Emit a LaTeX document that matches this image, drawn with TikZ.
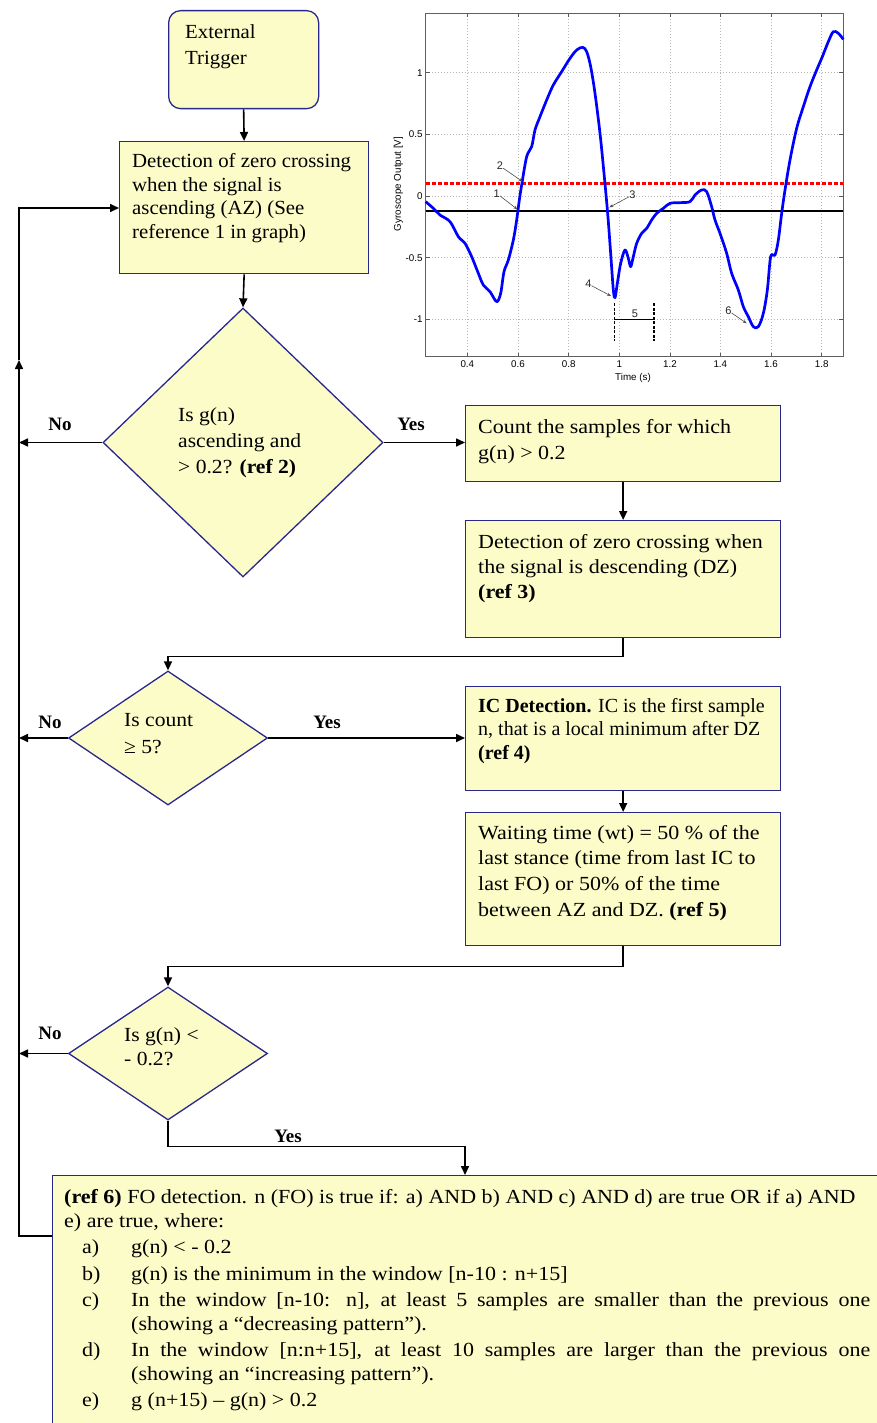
\documentclass[tikz,border=0pt]{standalone}
\usepackage{fontspec}
\setmainfont{Liberation Serif}
\newfontfamily\plotfont{Liberation Sans}
\newfontfamily\fA[FakeStretch=1.04]{Liberation Serif}
\newfontfamily\fB[FakeStretch=1.08]{Liberation Serif}
\newfontfamily\fC[FakeStretch=1.10]{Liberation Serif}
\usetikzlibrary{shapes.geometric,arrows.meta,calc}
\definecolor{boxfill}{RGB}{252,252,200}
\definecolor{boxline}{RGB}{40,40,140}
\definecolor{curveblue}{RGB}{0,0,255}
\newcommand{\tl}[1]{\begin{tabular}[t]{@{}l@{}}#1\end{tabular}}
\newcommand{\itm}[1]{\noindent\llap{\makebox[49pt][l]{#1}}}
\begin{document}
\begin{tikzpicture}[x=1pt,y=-1pt,
  box/.style 2 args={draw=boxline, fill=boxfill, line width=1.3pt, inner sep=0pt, anchor=north west, minimum width=#1, minimum height=#2},
  dia/.style 2 args={diamond, draw=boxline, fill=boxfill, line width=1.3pt, inner sep=0pt, minimum width=#1, minimum height=#2},
  txt/.style={anchor=base west, inner sep=0pt},
  lab/.style={inner sep=0pt, font=\fontsize{19}{19}\bfseries\selectfont},
  conn/.style={line width=1.6pt, draw=black},
  arr/.style={conn, -{Triangle[length=9pt,width=8pt]}},
  gridline/.style={gray!55, line width=0.5pt, dash pattern=on 1pt off 2pt},
  tick/.style={font=\plotfont\fontsize{9.8}{10}\selectfont, inner sep=0pt},
  anum/.style={font=\plotfont\fontsize{11}{11}\selectfont, inner sep=0pt, text=black!85},
  annot/.style={gray!60!black, line width=0.6pt, -{Stealth[length=4pt,width=3pt]}},
  ]
\useasboundingbox (0,0) rectangle (877,1423);

% ---------- flowchart boxes ----------
\node[box={150pt}{98pt}, rounded corners=12pt] (trig) at (168,10) {};
\node[box={249pt}{132pt}] (b1) at (119,141) {};
\node[dia={280pt}{269pt}] (d1) at (243,442.5) {};
\node[box={315pt}{76pt}] (b2) at (465,405) {};
\node[box={315pt}{117pt}] (b3) at (465,520) {};
\node[dia={199pt}{134pt}] (d2) at (168,738) {};
\node[box={315pt}{104pt}] (b4) at (465,686) {};
\node[box={315pt}{133pt}] (b5) at (465,812) {};
\node[dia={199pt}{133pt}] (d3) at (168,1053.5) {};
\node[box={850pt}{270pt}] (b6) at (52,1175) {};

% ---------- texts ----------
\node[txt, font=\fA\fontsize{20}{26}\selectfont] (t0) at (185,39) {\tl{External\\Trigger}};
\node[txt, font=\fA\fontsize{20}{23.5}\selectfont] (t1) at (132,168) {\tl{Detection of zero crossing\\when the signal is\\ascending (AZ) (See\\reference 1 in graph)}};
\node[txt, font=\fB\fontsize{20}{26}\selectfont] (td1) at (178,421) {\tl{Is g(n)\\ascending and\\> 0.2? \textbf{(ref 2)}}};
\node[txt, font=\fC\fontsize{20}{26}\selectfont] (t2) at (478,433) {\tl{Count the samples for which\\g(n) > 0.2}};
\node[txt, font=\fC\fontsize{20}{25}\selectfont] (t3) at (478,548) {\tl{Detection of zero crossing when\\the signal is descending (DZ)\\\textbf{(ref 3)}}};
\node[txt, font=\fB\fontsize{20}{27}\selectfont] (td2) at (124,726) {\tl{Is count\\≥ 5?}};
\node[txt, font=\fontsize{20}{23.5}\selectfont] (t4) at (478,712) {\tl{\textbf{IC Detection.} IC is the first sample\\n, that is a local minimum after DZ\\\textbf{(ref 4)}}};
\node[txt, font=\fC\fontsize{20}{25.7}\selectfont] (t5) at (478,839) {\tl{Waiting time (wt) = 50 \% of the\\last stance (time from last IC to\\last FO) or 50\% of the time\\between AZ and DZ. \textbf{(ref 5)}}};
\node[txt, font=\fB\fontsize{20}{24}\selectfont] (td3) at (124,1041) {\tl{Is g(n) <\\- 0.2?}};
\node[txt] (t6) at (64,1203) {\vtop{\hsize=815pt\parindent=0pt\parskip=0pt\fC\fontsize{20}{24}\selectfont
\textbf{(ref 6)} FO detection. n (FO) is true if: a) AND b) AND c) AND d) are true OR if a) AND\\e) are true, where:\par
\fontsize{20}{23.3}\selectfont\parskip=3.3pt\leftskip=67pt\rightskip=9pt
\itm{a)}g(n) < - 0.2\par
\itm{b)}g(n) is the minimum in the window [n-10 : n+15]\par
\itm{c)}In the window [n-10: n], at least 5 samples are smaller than the previous one\linebreak (showing a “decreasing pattern”).\par
\itm{d)}In the window [n:n+15], at least 10 samples are larger than the previous one\linebreak (showing an “increasing pattern”).\par
\itm{e)}g (n+15) – g(n) > 0.2\par}};

% ---------- connectors ----------
\coordinate (railtop) at (19,208);
\coordinate (railarr) at (19,360);
\coordinate (railbot) at (19,1236);
\coordinate (b6top) at (465,1175);
\draw[arr] (trig.south) -- (b1.north);
\draw[arr] (b1.south) -- (d1.north);
\draw[arr] (d1.east) -- (d1.east -| b2.west);
\draw[arr] (d1.west) -- (d1.west -| railtop);
\draw[arr] (b2.south) -- (b3.north);
\draw[arr] (b3.south) -- ++(0,18) -| (d2.north);
\draw[arr] (d2.west) -- (d2.west -| railtop);
\draw[arr] (d2.east) -- (d2.east -| b4.west);
\draw[arr] (b4.south) -- (b5.north);
\draw[arr] (b5.south) -- ++(0,20) -| (d3.north);
\draw[arr] (d3.west) -- (d3.west -| railtop);
\draw[arr] (d3.south) -- ++(0,26) -| (b6top);
\draw[arr] (railbot -| b6.west) -- (railbot) -- (railarr);
\draw[arr] (railarr) -- (railtop) -- (railtop -| b1.west);

\node[lab] (no1) at (60,424) {No};
\node[lab] (yes1) at (411,424) {Yes};
\node[lab] (no2) at (50,722) {No};
\node[lab] (yes2) at (327,722) {Yes};
\node[lab] (no3) at (50,1033) {No};
\node[lab] (yes3) at (288,1136) {Yes};

% ---------- plot (coordinates in 3x zoom pixels of the region at 380,0) ----------
\begin{scope}[shift={(380,0)}, x=0.33333pt, y=-0.33333pt]
  \foreach \gx in {262,414,566,718,870,1021,1173,1325}
    \draw[gridline] (\gx,40) -- (\gx,1070);
  \foreach \gy in {218,403,588,773,958}
    \draw[gridline] (137,\gy) -- (1390,\gy);
  \foreach \gx/\tx in {262/0.4,414/0.6,566/0.8,718/1,870/1.2,1021/1.4,1173/1.6,1325/1.8}{
    \draw[gray!70!black, line width=0.5pt] (\gx,1070) -- (\gx,1058) (\gx,40) -- (\gx,52);
    \node[tick, anchor=north] (xl\gx) at (\gx,1082) {\tx};}
  \foreach \gy/\ty in {218/1,403/0.5,588/0,773/-0.5,958/-1}{
    \draw[gray!70!black, line width=0.5pt] (137,\gy) -- (149,\gy) (1390,\gy) -- (1378,\gy);
    \node[tick, anchor=east] (yl\gy) at (128,\gy) {\ty};}
  \draw[gray!75!black, line width=0.7pt] (137,40) rectangle (1390,1070);
  \node[tick] (xlabel) at (759,1133) {Time (s)};
  \node[tick, rotate=90] (ylabel) at (55,552) {Gyroscope Output [V]};
  % threshold lines
  \draw[red, line width=2.6pt, dash pattern=on 4pt off 2pt] (137,550) -- (1390,550);
  \draw[black, line width=2.6pt] (137,633) -- (1390,633);
  % signal
  \draw[curveblue, line width=2.7pt, line join=round] plot[smooth, tension=0.55] coordinates {
    (137,605) (160,625) (180,645) (210,665) (235,710) (255,730) (275,770) (295,820)
    (310,855) (330,875) (350,905) (362,880) (372,815) (385,780) (400,720) (410,660)
    (418,600) (425,555) (440,470) (455,440) (465,390) (480,350) (500,300) (520,255)
    (545,215) (570,175) (590,150) (608,142) (620,155) (632,200) (645,280) (660,400)
    (672,520) (683,640) (692,760) (700,870) (705,893) (712,850) (722,790) (735,750)
    (745,775) (752,800) (760,770) (770,730) (785,700) (800,685) (815,660) (830,640)
    (850,625) (870,610) (900,608) (930,605) (945,585) (965,570) (980,575) (995,620)
    (1005,660) (1020,700) (1040,760) (1055,820) (1075,870) (1090,920) (1105,950)
    (1120,980) (1135,980) (1150,940) (1162,870) (1172,770) (1185,765) (1195,720)
    (1205,640) (1215,570) (1230,480) (1250,385) (1270,320) (1290,260) (1310,210)
    (1325,175) (1345,125) (1360,95) (1375,100) (1390,118)};
  % annotations
  \node[anum] (a1) at (350,580) {1};
  \node[anum] (a2) at (360,498) {2};
  \node[anum] (a3) at (757,585) {3};
  \node[anum] (a4) at (625,852) {4};
  \node[anum] (a5) at (765,940) {5};
  \node[anum] (a6) at (1045,932) {6};
  \coordinate (p1) at (412,628);
  \coordinate (p2) at (428,545);
  \coordinate (p3) at (688,622);
  \coordinate (p4) at (693,888);
  \coordinate (p6) at (1100,970);
  \draw[annot] (a1) -- (p1);
  \draw[annot] (a2) -- (p2);
  \draw[annot] (a3) -- (p3);
  \draw[annot] (a4) -- (p4);
  \draw[annot] (a6) -- (p6);
  \coordinate (w1) at (703,958);
  \coordinate (w2) at (822,958);
  \draw[black, line width=1.5pt] (w1) -- (w2);
  \draw[black, line width=1.6pt, dash pattern=on 3pt off 1.5pt] (703,910) -- (703,1022) (822,910) -- (822,1022);
\end{scope}
\end{tikzpicture}
\end{document}
